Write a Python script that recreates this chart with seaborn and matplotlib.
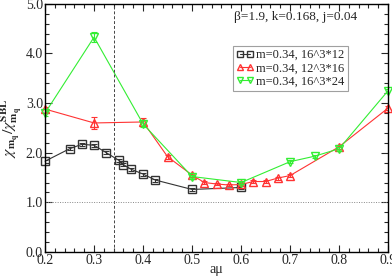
import numpy as np
import pandas as pd
import matplotlib
matplotlib.use("Agg")
import matplotlib.pyplot as plt
import seaborn as sns
from matplotlib.ticker import MultipleLocator

# black squares: m=0.34, 16^3*12
x_sq = [0.2, 0.25, 0.275, 0.3, 0.325, 0.35, 0.36, 0.375, 0.4, 0.425, 0.5, 0.6]
y_sq = [1.83, 2.08, 2.17, 2.15, 2.00, 1.85, 1.76, 1.67, 1.57, 1.45, 1.26, 1.30]
e_sq = [0.03, 0.03, 0.03, 0.03, 0.03, 0.03, 0.03, 0.03, 0.03, 0.03, 0.03, 0.03]

# red up-triangles: m=0.34, 12^3*16
x_tr = [0.2, 0.3, 0.4, 0.45, 0.5, 0.525, 0.55, 0.575, 0.6, 0.625, 0.65, 0.675, 0.7, 0.8, 0.9]
y_tr = [2.88, 2.60, 2.62, 1.92, 1.55, 1.40, 1.37, 1.35, 1.36, 1.42, 1.42, 1.49, 1.54, 2.12, 2.90]
e_tr = [0.05, 0.12, 0.08, 0.04, 0.04, 0.03, 0.03, 0.03, 0.03, 0.03, 0.03, 0.03, 0.03, 0.04, 0.04]

# green down-triangles: m=0.34, 16^3*24
x_tv = [0.2, 0.3, 0.4, 0.5, 0.6, 0.7, 0.75, 0.8, 0.9]
y_tv = [2.80, 4.33, 2.58, 1.52, 1.40, 1.82, 1.93, 2.08, 3.25]
e_tv = [0.05, 0.10, 0.07, 0.04, 0.03, 0.03, 0.03, 0.04, 0.04]

labels = ["m=0.34, 16^3*12", "m=0.34, 12^3*16", "m=0.34, 16^3*24"]
colors = ["#333333", "#ff3333", "#33ee33"]
markers = ["s", "^", "v"]

sns.set_style("ticks")
plt.rcParams["font.family"] = ["Liberation Serif", "DejaVu Serif"]
plt.rcParams["mathtext.fontset"] = "stix"

fig = plt.figure(figsize=(3.92, 2.76), dpi=100)
ax = fig.add_axes([0.115, 0.087, 0.875, 0.899])

series = [(x_sq, y_sq, e_sq), (x_tr, y_tr, e_tr), (x_tv, y_tv, e_tv)]
for (xs, ys, es), lab, c, m in zip(series, labels, colors, markers):
    df = pd.DataFrame({"x": xs, "y": ys})
    sns.lineplot(data=df, x="x", y="y", ax=ax, color=c, lw=0.8, marker=m,
                 markersize=5.5, markerfacecolor="none", markeredgecolor=c,
                 markeredgewidth=1.0, label=lab, clip_on=False)
    ax.errorbar(xs, ys, yerr=es, fmt="none", ecolor=c, elinewidth=0.8,
                capsize=2, capthick=0.8)

ax.axvline(0.34, color="#444444", lw=0.7, ls=(0, (3, 2)))
ax.axhline(1.0, color="#888888", lw=0.7, ls=(0, (1, 1.5)))

ax.set_xlim(0.2, 0.9)
ax.set_ylim(0.0, 5.0)
ax.xaxis.set_major_locator(MultipleLocator(0.1))
ax.xaxis.set_minor_locator(MultipleLocator(0.02))
ax.yaxis.set_major_locator(MultipleLocator(1.0))
ax.yaxis.set_minor_locator(MultipleLocator(0.2))
ax.set_xticklabels([f"{v:.1f}" for v in ax.get_xticks()])
ax.set_yticklabels([f"{v:.1f}" for v in ax.get_yticks()])
ax.tick_params(which="both", direction="in", top=True, right=True, labelsize=10, pad=1.5)
ax.tick_params(which="major", length=5, width=0.8)
ax.tick_params(which="minor", length=3, width=0.8)
for s in ax.spines.values():
    s.set_linewidth(1.0)
    s.set_color("black")

ax.set_xlabel("a\u03bc", fontsize=10, labelpad=-3)
ax.set_ylabel(r"$\chi_{\mathbf{m_q}}/\chi_{\mathbf{m_q}}^{\mathbf{SBL}}$", fontsize=11.5, labelpad=1)

ax.text(0.73, 0.948, "\u03b2=1.9, k=0.168, j=0.04", transform=ax.transAxes,
        ha="center", va="center", fontsize=9.5)

leg = ax.legend(loc="upper left", bbox_to_anchor=(0.548, 0.83), numpoints=2,
                fontsize=9, frameon=True, fancybox=False, handlelength=1.4,
                handletextpad=0.2, borderpad=0.25, labelspacing=0.1,
                borderaxespad=0, markerscale=0.85)
leg.get_frame().set_edgecolor("#888888")
leg.get_frame().set_linewidth(0.8)

fig.savefig("out.png", dpi=100)
